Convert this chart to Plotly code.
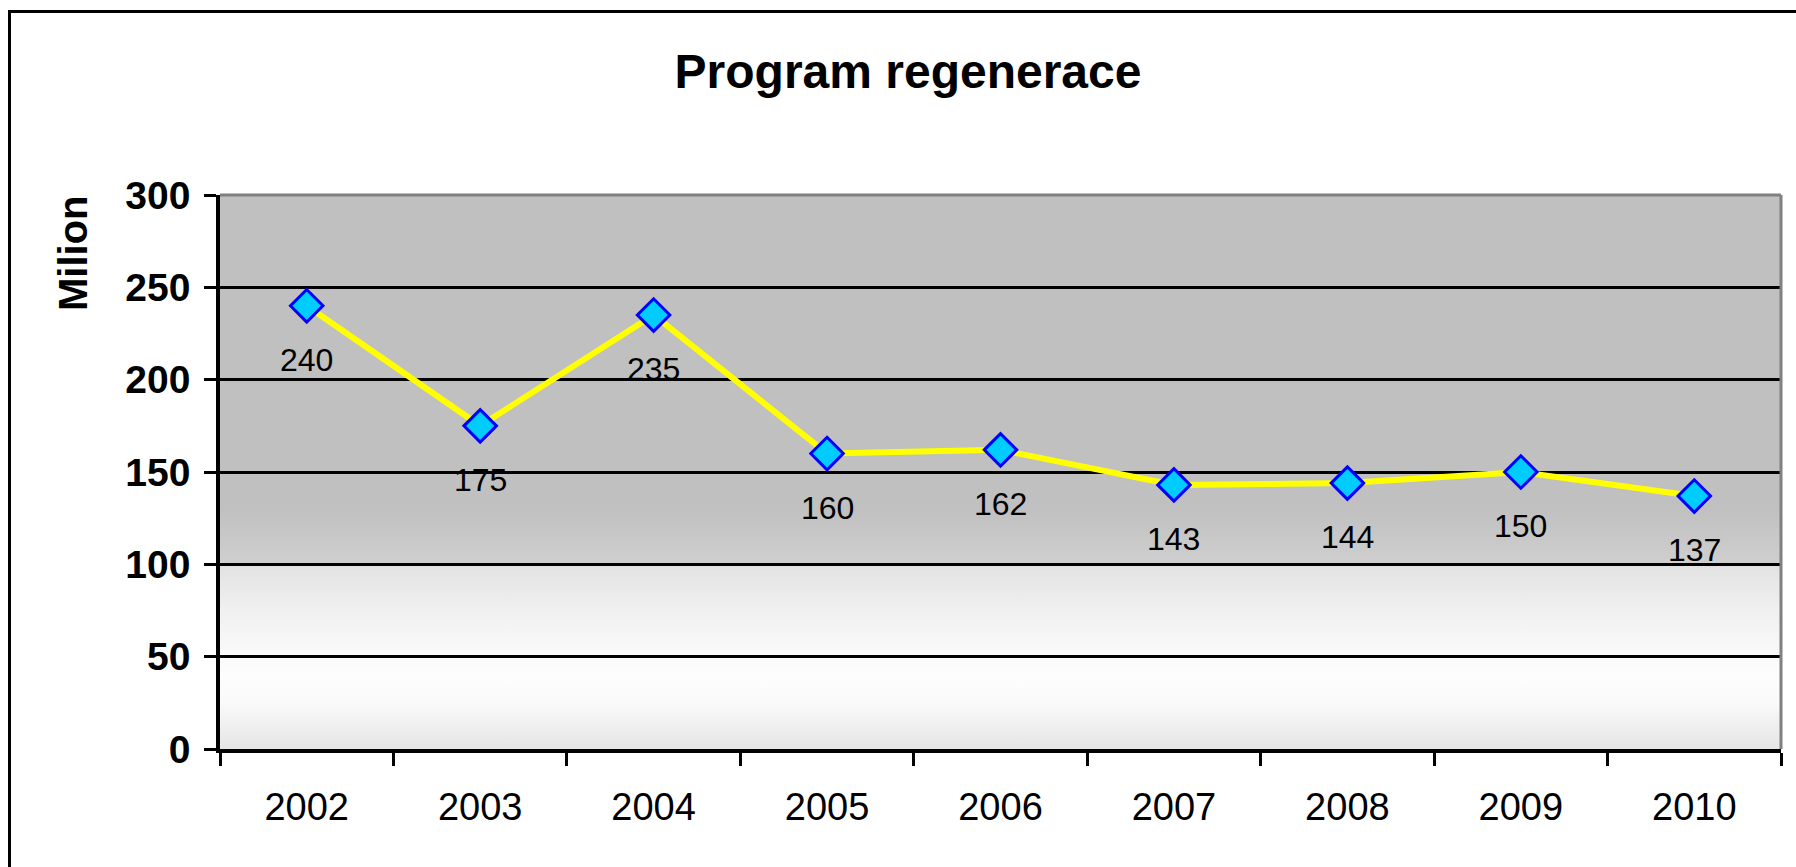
import base64
import plotly.graph_objects as go

years = ["2002", "2003", "2004", "2005", "2006", "2007", "2008", "2009", "2010"]
values = [240, 175, 235, 160, 162, 143, 144, 150, 137]
y_ticks = [0, 50, 100, 150, 200, 250, 300]

W, H = 1796, 867
L, R, T, B = 220, 1781, 195, 749
FONT = "Arial, Liberation Sans, sans-serif"

fig = go.Figure()
fig.add_trace(go.Scatter(
    x=years, y=values, mode="lines+markers",
    line=dict(color="#FFFF00", width=6),
    marker=dict(symbol="diamond", size=25, color="#00CCFF",
                line=dict(color="#0000FF", width=3)),
    cliponaxis=False, hoverinfo="skip", showlegend=False,
))

# background gradient (style only) as an SVG image
grad = [(300, 192), (130, 192), (100.3, 207), (99.7, 226), (75, 240),
        (50, 250), (40, 253), (25, 250), (0, 229)]
stop_xml = "".join(
    f"<stop offset='{(300 - v) / 300:.4f}' stop-color='rgb({g},{g},{g})'/>"
    for v, g in grad)
svg = ("<svg xmlns='http://www.w3.org/2000/svg' width='100' height='300' "
       "viewBox='0 0 100 300' preserveAspectRatio='none'><defs>"
       "<linearGradient id='g' x1='0' y1='0' x2='0' y2='1'>" + stop_xml +
       "</linearGradient></defs><rect width='100' height='300' fill='url(#g)'/></svg>")
src = "data:image/svg+xml;base64," + base64.b64encode(svg.encode()).decode()

def px(xp):
    return (xp - L) / (R - L)
def py(yp):
    return (B - yp) / (B - T)

shapes = [
    dict(type="line", xref="paper", yref="paper", x0=0, x1=1, y0=1, y1=1,
         line=dict(color="#808080", width=3), layer="above"),
    dict(type="line", xref="paper", yref="paper", x0=1, x1=1, y0=0, y1=1,
         line=dict(color="#808080", width=3), layer="above"),
    dict(type="rect", xref="paper", yref="paper",
         x0=px(9.5), x1=px(1810), y0=py(885), y1=py(11.5),
         line=dict(color="black", width=3), fillcolor="rgba(0,0,0,0)"),
]

annotations = []
for i, val in enumerate(values):
    annotations.append(dict(x=i, y=val, xref="x", yref="y", text=str(val),
                            showarrow=False, yshift=-54, yanchor="middle",
                            font=dict(family=FONT, size=32, color="black")))
annotations.append(dict(x=px(73), y=py(253), xref="paper", yref="paper",
                        text="<b>Milion</b>", textangle=-90, showarrow=False,
                        xanchor="center", yanchor="middle",
                        font=dict(family=FONT, size=40, color="black")))

fig.update_layout(
    width=W, height=H,
    margin=dict(l=L, r=W - R, t=T, b=H - B, pad=0),
    paper_bgcolor="white", plot_bgcolor="white",
    title=dict(text="<b>Program regenerace</b>", x=908 / W, xanchor="center",
               y=1 - 71 / H, yanchor="middle", yref="container",
               font=dict(family=FONT, size=48, color="black")),
    images=[dict(source=src, xref="paper", yref="paper", x=0, y=1, sizex=1, sizey=1,
                 xanchor="left", yanchor="top", sizing="stretch", layer="below")],
    shapes=shapes, annotations=annotations,
    xaxis=dict(type="category", range=[-0.5, 8.5], tickson="boundaries",
               ticks="outside", ticklen=13, tickwidth=3, tickcolor="black",
               showline=True, linecolor="black", linewidth=3.5,
               showgrid=False, zeroline=False, ticklabelstandoff=22,
               tickfont=dict(family=FONT, size=38, color="black")),
    yaxis=dict(range=[0, 300], tickvals=y_ticks,
               ticktext=[f"<b>{t}</b>" for t in y_ticks],
               ticks="outside", ticklen=12, tickwidth=3, tickcolor="black",
               showline=True, linecolor="black", linewidth=3.5,
               showgrid=True, gridcolor="black", gridwidth=2.5, zeroline=False,
               ticklabelstandoff=6,
               tickfont=dict(family=FONT, size=39, color="black")),
)

fig.write_html("out.html", config={"displayModeBar": False},
               post_script="document.body.style.margin='0';document.body.style.overflow='hidden';")
